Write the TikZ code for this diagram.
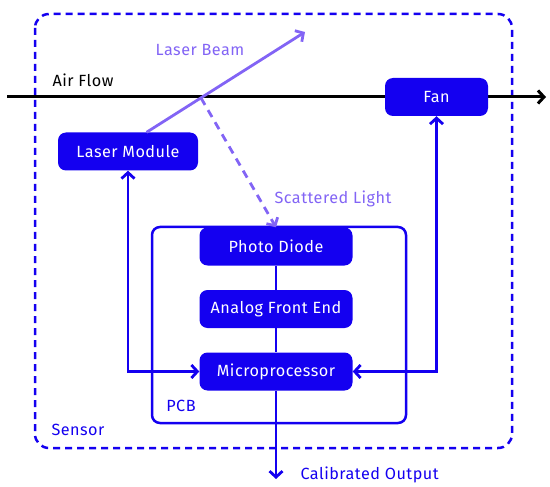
\documentclass[tikz,border=0pt]{standalone}
\usepackage{fontspec}
\setmainfont[LetterSpace=3]{Fira Sans}
\usetikzlibrary{arrows.meta,positioning}
\definecolor{sensorblue}{RGB}{20,0,240}
\definecolor{beampurple}{RGB}{130,100,245}

\begin{document}
\begin{tikzpicture}[x=1pt,y=-1pt,>={Straight Barb[length=6pt,width=13pt]},font=\fontsize{16.2}{18}\selectfont,
  block/.style={fill=sensorblue,text=white,rounded corners=8pt,minimum height=38pt,inner sep=0pt},
  link/.style={sensorblue,line width=2.8pt},
  beam/.style={beampurple,line width=2.8pt}]
  \useasboundingbox (0,0) rectangle (550,487);
  % sensor housing and the board inside it
  \draw[sensorblue,line width=2.5pt,dash pattern=on 7pt off 5pt,rounded corners=14pt] (35,14) rectangle (512,448);
  \node[sensorblue,anchor=west] (sensorlbl) at (48,430) {Sensor};
  \draw[sensorblue,line width=2.5pt,rounded corners=8pt] (152,227) rectangle (406,423);
  \node[sensorblue] (pcblbl) at (181,406) {PCB};
  % air flow through the sensor
  \coordinate (airin) at (7,97);
  \coordinate (airout) at (546,97);
  \draw[->,line width=3pt] (airin) -- (airout);
  \node[black,anchor=west] (airlbl) at (49,80) {Air Flow};
  % blocks
  \node[block,minimum width=140pt] (laser) at (128,151.5) {Laser Module};
  \node[block,minimum width=103pt] (fan) at (436.5,97) {Fan};
  \node[block,minimum width=153pt] (photo) at (276,246.5) {Photo Diode};
  \node[block,minimum width=153pt] (afe) at (276,309) {Analog Front End};
  \node[block,minimum width=153pt] (micro) at (276,371.5) {Microprocessor};
  % laser beam and the light scattered by particles
  \coordinate (beamend) at (305,32);
  \coordinate (scatter) at (201,98);
  \draw[beam,->] (laser.46) -- (beamend);
  \node[beampurple] (beamlbl) at (200,50) {Laser Beam};
  \draw[beam,->,dash pattern=on 8pt off 6pt] (scatter) -- (photo.north);
  \node[beampurple] (scatterlbl) at (333,199) {Scattered Light};
  % signal chain
  \draw[link] (photo) -- (afe);
  \draw[link] (afe) -- (micro);
  \draw[link,<->] (laser.south) |- (micro.west);
  \draw[link,<->] (fan.south) |- (micro.east);
  \coordinate (out) at (276,479);
  \draw[link,->] (micro.south) -- (out);
  \node[sensorblue,anchor=west] (outlbl) at (297,475) {Calibrated Output};
\end{tikzpicture}
\end{document}
